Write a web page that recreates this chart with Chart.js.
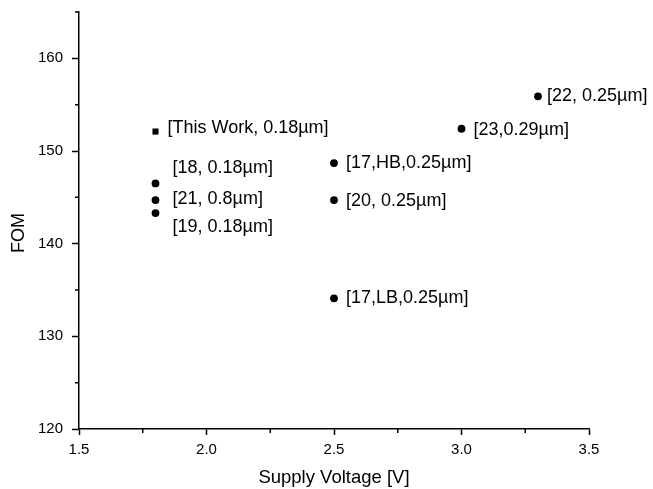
<!DOCTYPE html>
<html>
<head>
<meta charset="utf-8">
<script src="https://cdn.jsdelivr.net/npm/chart.js@4.4.1/dist/chart.umd.min.js"></script>
<style>
  html, body { margin: 0; padding: 0; background: #fff; }
  #wrap { width: 653px; height: 489px; }
</style>
</head>
<body>
<div id="wrap"><canvas id="fomChart"></canvas></div>
<script>
// data
const thisWorkLabels = ["[This Work, 0.18µm]"];
const thisWorkVoltage = [1.8];
const thisWorkFom = [152.1];

const refLabels = ["[18, 0.18µm]", "[21, 0.8µm]", "[19, 0.18µm]", "[17,HB,0.25µm]", "[20, 0.25µm]", "[17,LB,0.25µm]", "[23,0.29µm]", "[22, 0.25µm]"];
const refVoltage = [1.8, 1.8, 1.8, 2.5, 2.5, 2.5, 3.0, 3.3];
const refFom = [146.5, 144.7, 143.3, 148.7, 144.7, 134.1, 152.4, 155.9];

const xTicks = [1.5, 2.0, 2.5, 3.0, 3.5];
const yTicks = [120, 130, 140, 150, 160];

// label placement next to each marker (pixels)
const thisWorkOffsets = [[12, -4]];
const refOffsets = [[17, -15], [17, -1], [17, 14], [12, 0], [12, 1], [12, 0], [12, 1], [9, 0]];

const font = "'Liberation Sans', Arial, sans-serif";

function toPoints(xs, ys) {
  return xs.map((x, i) => ({ x: x, y: ys[i] }));
}

// text labels beside the points
const pointLabels = {
  id: "pointLabels",
  afterDatasetsDraw(chart) {
    const ctx = chart.ctx;
    ctx.save();
    ctx.fillStyle = "#000";
    ctx.font = "18px " + font;
    ctx.textBaseline = "middle";
    ctx.textAlign = "left";
    chart.data.datasets.forEach((ds, di) => {
      const meta = chart.getDatasetMeta(di);
      meta.data.forEach((pt, i) => {
        const off = ds.offsets[i];
        ctx.fillText(ds.texts[i], pt.x + off[0], pt.y + off[1]);
      });
    });
    ctx.restore();
  }
};

// shorter minor ticks between the labelled ones
const minorTicks = {
  id: "minorTicks",
  afterDraw(chart) {
    const ctx = chart.ctx;
    const xs = chart.scales.x, ys = chart.scales.y;
    ctx.save();
    ctx.strokeStyle = "#000";
    ctx.lineWidth = 1.5;
    ctx.beginPath();
    for (let v = 1.75; v < 3.5; v += 0.5) {
      const px = xs.getPixelForValue(v);
      ctx.moveTo(px, ys.bottom);
      ctx.lineTo(px, ys.bottom + 4);
    }
    for (let v = 125; v <= 165; v += 10) {
      const py = ys.getPixelForValue(v);
      ctx.moveTo(xs.left, py);
      ctx.lineTo(xs.left - 4, py);
    }
    ctx.stroke();
    ctx.restore();
  }
};

const ctx = document.getElementById("fomChart").getContext("2d");
const fomChart = new Chart(ctx, {
  type: "scatter",
  data: {
    datasets: [
      {
        label: "This Work",
        data: toPoints(thisWorkVoltage, thisWorkFom),
        texts: thisWorkLabels,
        offsets: thisWorkOffsets,
        pointStyle: "rect",
        pointRadius: 4.3,
        backgroundColor: "#000",
        borderColor: "#000",
        borderWidth: 0,
      },
      {
        label: "References",
        data: toPoints(refVoltage, refFom),
        texts: refLabels,
        offsets: refOffsets,
        pointStyle: "circle",
        pointRadius: 3.9,
        backgroundColor: "#000",
        borderColor: "#000",
        borderWidth: 0,
      },
    ],
  },
  options: {
    responsive: true,
    maintainAspectRatio: false,
    animation: false,
    layout: { padding: { left: 0, right: 64, top: 12, bottom: 0 } },
    plugins: {
      legend: { display: false },
      tooltip: { enabled: false },
    },
    scales: {
      x: {
        type: "linear",
        min: 1.5,
        max: 3.5,
        afterBuildTicks: (scale) => { scale.ticks = xTicks.map((v) => ({ value: v })); },
        afterFit: (scale) => { scale.height = 60; },
        grid: { drawOnChartArea: false, tickLength: 6, tickColor: "#000", tickWidth: 1.5 },
        border: { color: "#000", width: 1.5 },
        ticks: {
          color: "#000",
          font: { family: font, size: 15 },
          padding: 6,
          maxRotation: 0,
          callback: (v) => v.toFixed(1),
        },
        title: {
          display: true,
          text: "Supply Voltage [V]",
          color: "#000",
          font: { family: font, size: 18.5 },
          padding: { top: 1, bottom: 0 },
        },
      },
      y: {
        type: "linear",
        min: 120,
        max: 165,
        afterBuildTicks: (scale) => { scale.ticks = yTicks.map((v) => ({ value: v })); },
        afterFit: (scale) => { scale.width = 79; scale.paddingTop = 0; },
        grid: { drawOnChartArea: false, tickLength: 7, tickColor: "#000", tickWidth: 1.5 },
        border: { color: "#000", width: 1.5 },
        ticks: {
          color: "#000",
          font: { family: font, size: 15 },
          padding: 9,
          callback: (v) => String(v),
        },
        title: {
          display: true,
          text: "FOM\u00a0\u00a0\u00a0\u00a0\u00a0",
          color: "#000",
          font: { family: font, size: 18 },
          padding: { top: 8, bottom: 0 },
        },
      },
    },
  },
  plugins: [pointLabels, minorTicks],
});
</script>
</body>
</html>
